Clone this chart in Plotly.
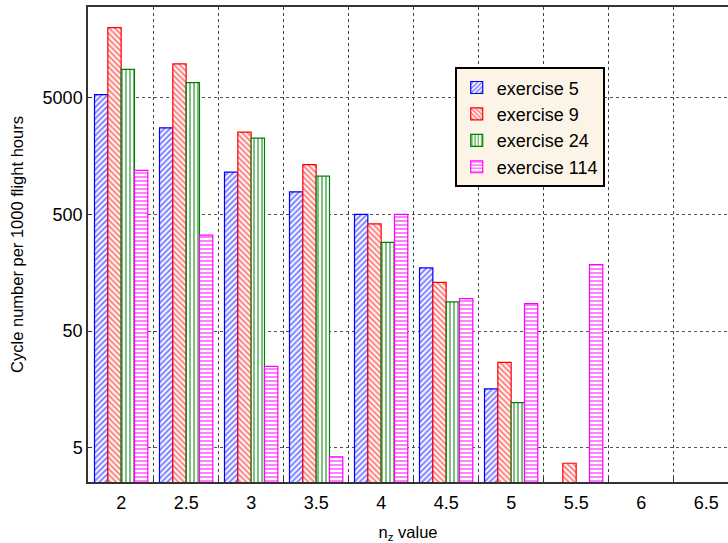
import plotly.graph_objects as go

categories = [2, 2.5, 3, 3.5, 4, 4.5, 5, 5.5, 6, 6.5]
tick_labels = ["2", "2.5", "3", "3.5", "4", "4.5", "5", "5.5", "6", "6.5"]
exercise_5 = [5300, 2750, 1150, 780, 500, 174, 16, None, None, None]
exercise_9 = [19800, 9700, 2530, 1330, 415, 131, 27, 3.7, None, None]
exercise_24 = [8700, 6700, 2250, 1060, 288, 89, 12.2, None, None, None]
exercise_114 = [1190, 332, 25, 4.2, 500, 95, 86, 186, None, None]
y_ticks = [5, 50, 500, 5000]

series = [
    ("exercise 5", exercise_5, "#0000FF", "/"),
    ("exercise 9", exercise_9, "#FF0000", "\\"),
    ("exercise 24", exercise_24, "#008000", "|"),
    ("exercise 114", exercise_114, "#FF00FF", "-"),
]

fig = go.Figure()
for name, vals, col, shp in series:
    fig.add_trace(go.Bar(
        x=categories, y=vals, name=name,
        marker=dict(color="white",
                    line=dict(color=col, width=1.2),
                    pattern=dict(shape=shp, fgcolor=col, bgcolor="white",
                                 size=4, solidity=0.5, fillmode="overlay")),
    ))

boundaries = [c + 0.25 for c in categories]

fig.update_layout(
    width=728, height=543,
    margin=dict(l=88, r=0, t=7, b=61),
    paper_bgcolor="white", plot_bgcolor="white",
    barmode="group", bargap=0.18, bargroupgap=0,
    font=dict(family="Liberation Sans, Arial, sans-serif", size=17, color="black"),
    legend=dict(x=0.573, y=0.873, xanchor="left", yanchor="top",
                bgcolor="#FDF4E8", bordercolor="black", borderwidth=2,
                font=dict(size=18), tracegroupgap=0,
                entrywidth=125, entrywidthmode="pixels"),
    xaxis=dict(
        range=[1.745, 6.668], tickmode="array", tickvals=categories, ticktext=tick_labels,
        ticks="", showgrid=False, showline=True, linecolor="#333", linewidth=1.5, mirror=True,
        tickfont=dict(size=18), ticklabelstandoff=4,
        minor=dict(tickmode="array", tickvals=boundaries, ticks="inside", ticklen=4,
                   tickcolor="#333", showgrid=True, gridcolor="#444", griddash="dot", gridwidth=1),
        title=dict(text="n<sub>z</sub> value", font=dict(size=16.5)),
        zeroline=False, automargin=False,
    ),
    yaxis=dict(
        type="log", range=[0.4076, 4.474], tickmode="array", tickvals=y_ticks,
        ticktext=[str(v) for v in y_ticks], tickfont=dict(size=18),
        ticks="inside", ticklen=4, tickcolor="#333",
        showgrid=True, gridcolor="#555", griddash="dot", gridwidth=1,
        showline=True, linecolor="#333", linewidth=1.5, mirror=True,
        title=dict(text="Cycle number per 1000 flight hours", font=dict(size=16.5)),
        zeroline=False, automargin=False,
    ),
)

fig.write_html("out.html", config={"displayModeBar": False},
               post_script="document.body.style.margin='0';")
